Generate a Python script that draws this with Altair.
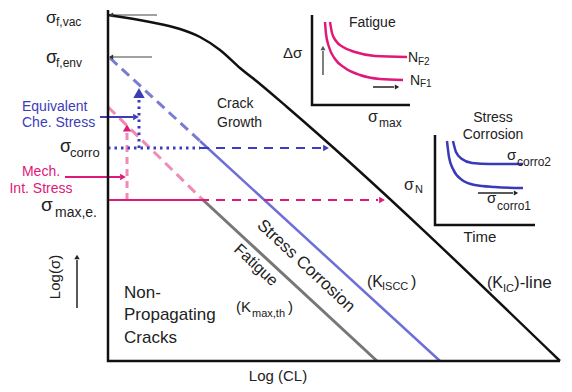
import altair as alt
import pandas as pd

# ---------------- diagram data (schematic units: x = Log(CL), y = Log(sigma)) -------------
# main frame and K_IC line
AXES_X = [108, 108, 560]
AXES_Y = [10, 361, 361]
KIC_X = [108, 150, 180, 200, 220, 240, 260, 287, 560]
KIC_Y = [15, 22, 29, 37, 50, 68, 84, 107, 361]

# strength levels (thin arrows)
SF_VAC_X, SF_VAC_Y = [157, 113], [15, 15]
SF_ENV_X, SF_ENV_Y = [152, 113], [57, 57]

# K_ISCC line: dashed part then solid part
KISCC_DASH_X, KISCC_DASH_Y = [110, 200], [58, 141]
KISCC_X, KISCC_Y = [200, 440], [141, 361]

# Fatigue threshold line: dashed part then solid part
KTH_DASH_X, KTH_DASH_Y = [108, 202], [107, 199]
KTH_X, KTH_Y = [202, 377], [199, 361]

# sigma_corro level
CORRO_DOT_X, CORRO_DOT_Y = [108, 200], [148, 148]
CORRO_DASH_X, CORRO_DASH_Y = [200, 322], [148, 148]
CHE_UP_X, CHE_UP_Y = [139, 139], [148, 100]
CHE_ARROW_X, CHE_ARROW_Y = [100, 133], [117, 117]

# sigma_max,e level
SMAX_X, SMAX_Y = [108, 200], [200, 200]
SMAX_DASH_X, SMAX_DASH_Y = [200, 378], [200, 200]
MECH_UP_X, MECH_UP_Y = [127, 127], [200, 133]
MECH_ARROW_X, MECH_ARROW_Y = [65, 120], [177, 177]

# Log(sigma) arrow
LOGS_X, LOGS_Y = [77, 77], [308, 260]

# inset 1: fatigue
IN1_AX_X, IN1_AX_Y = [312, 312, 410], [15, 105, 105]
NF2_X = [330, 332, 336, 343, 355, 375, 407]
NF2_Y = [22, 33, 41, 47, 52, 56, 57]
NF1_X = [325, 326, 329, 335, 345, 360, 380, 403]
NF1_Y = [22, 34, 47, 59, 68, 75, 79, 80]
IN1_UP_X, IN1_UP_Y = [323, 323], [75, 51]
IN1_RT_X, IN1_RT_Y = [373, 394], [87, 87]

# inset 2: stress corrosion
IN2_AX_X, IN2_AX_Y = [435, 435, 535], [135, 225, 225]
C2_X = [453, 456, 462, 472, 490, 523]
C2_Y = [141, 152, 159, 163, 164, 164]
C1_X = [447, 449, 453, 462, 475, 495, 523]
C1_Y = [141, 157, 169, 180, 185, 187, 188]
IN2_RT_X, IN2_RT_Y = [478, 513], [193, 193]

# arrow heads: (x, y, shape, colour, size)
HEADS = [
    (111, 15, "triangle-left", "#333333", 25),
    (111, 57, "triangle-left", "#333333", 25),
    (136, 117, "triangle-right", "#3c3cb8", 45),
    (139, 93, "triangle-up", "#3c3cb8", 130),
    (127, 128, "triangle-up", "#e0187a", 70),
    (123, 177, "triangle-right", "#e0187a", 45),
    (326, 148, "triangle-right", "#3c3cc0", 45),
    (382, 200, "triangle-right", "#e0187a", 45),
    (77, 257, "triangle-up", "#222222", 30),
    (323, 48, "triangle-up", "#555555", 25),
    (397, 87, "triangle-right", "#222222", 25),
    (516, 193, "triangle-right", "#222222", 25),
]

DARK, BLUE, PINK = "#222222", "#3c3cb8", "#e0187a"

# texts: (text, x, y, size, colour)
TEXT_LEFT = [
    ("σ", 46, 18, 17, DARK), ("f,vac", 56, 22, 12, DARK),
    ("σ", 46, 58, 18, DARK), ("f,env", 56, 63, 12, DARK),
    ("σ", 60, 147, 18, DARK), ("corro", 70, 153, 13, DARK),
    ("σ", 41, 205, 19, DARK), ("max,e.", 55, 213, 14, DARK),
    ("Crack", 217, 104, 14, DARK), ("Growth", 217, 123, 14, DARK),
    ("Non-", 124, 293, 17, DARK), ("Propagating", 124, 315, 17, DARK),
    ("Cracks", 124, 338, 17, DARK),
    ("(K", 236, 307, 15, DARK), ("max,th", 252, 314, 11, DARK), (")", 288, 307, 15, DARK),
    ("(K", 367, 282, 16, DARK), ("ISCC", 382, 287, 11, DARK), (")", 411, 282, 16, DARK),
    ("(K", 487, 283, 16, DARK), ("IC", 503, 289, 11, DARK), (")-line", 514, 283, 17, DARK),
    ("Fatigue", 349, 23, 14, DARK),
    ("Δσ", 283, 53, 15, DARK),
    ("σ", 368, 117, 16, DARK), ("max", 379, 123, 12, DARK),
    ("N", 408, 58, 14, DARK), ("F2", 418, 62, 10, DARK),
    ("N", 410, 81, 14, DARK), ("F1", 420, 84, 10, DARK),
    ("σ", 404, 185, 16, DARK), ("N", 415, 190, 11, DARK),
    ("σ", 507, 155, 15, DARK), ("corro2", 517, 162, 12, DARK),
    ("σ", 487, 198, 15, DARK), ("corro1", 497, 206, 12, DARK),
    ("Equivalent", 22, 107, 14, BLUE), ("Che. Stress", 22, 123, 14, BLUE),
]
TEXT_CENTER = [
    ("Mech.", 41, 172, 14, PINK), ("Int. Stress", 41, 189, 14, PINK),
    ("Log (CL)", 278, 376, 15, DARK),
    ("Stress", 493, 118, 14, DARK), ("Corrosion", 493, 135, 14, DARK),
    ("Time", 480, 237, 15, DARK),
]
TEXT_VERTICAL = [("Log(σ)", 55, 277, 15, DARK)]
TEXT_SLANT = [("Fatigue", 256, 265, 16, DARK), ("Stress Corrosion", 306, 266, 17, DARK)]

FONT = "Liberation Sans"

# ---------------------------------------------------------------------------------------
X = alt.X("x:Q", scale=alt.Scale(domain=[8, 564], nice=False, zero=False), axis=None)
Y = alt.Y("y:Q", scale=alt.Scale(domain=[8, 384], nice=False, zero=False, reverse=True), axis=None)


def paths(*pairs):
    frames = []
    for i, (xs, ys) in enumerate(pairs):
        frames.append(pd.DataFrame({"x": xs, "y": ys, "seg": i, "o": list(range(len(xs)))}))
    return pd.concat(frames, ignore_index=True)


def lines(df, color, width, dash=None, interp="linear"):
    kw = dict(color=color, strokeWidth=width, interpolate=interp, strokeCap="butt")
    if dash:
        kw["strokeDash"] = dash
    return alt.Chart(df).mark_line(**kw).encode(
        x=X, y=Y, detail="seg:N", order="o:Q")


def texts(rows, align, angle=0):
    df = pd.DataFrame(rows, columns=["t", "x", "y", "s", "c"])
    return alt.Chart(df).mark_text(align=align, baseline="middle", font=FONT, angle=angle).encode(
        x=X, y=Y, text="t:N",
        size=alt.Size("s:Q", scale=None),
        color=alt.Color("c:N", scale=None))


layers = [
    lines(paths((SF_VAC_X, SF_VAC_Y), (SF_ENV_X, SF_ENV_Y)), "#444444", 1),
    lines(paths((KISCC_DASH_X, KISCC_DASH_Y)), "#7b7bd3", 3, [10, 6]),
    lines(paths((KISCC_X, KISCC_Y)), "#6e6ed8", 2.5),
    lines(paths((KTH_DASH_X, KTH_DASH_Y)), "#f08ab9", 3, [10, 6]),
    lines(paths((KTH_X, KTH_Y)), "#777777", 3),
    lines(paths((MECH_UP_X, MECH_UP_Y)), "#f08ab9", 3, [7, 5]),
    lines(paths((CORRO_DOT_X, CORRO_DOT_Y), (CHE_UP_X, CHE_UP_Y)), "#3c3cb8", 3, [2.5, 4]),
    lines(paths((CORRO_DASH_X, CORRO_DASH_Y)), "#3c3cc0", 2, [9, 7]),
    lines(paths((CHE_ARROW_X, CHE_ARROW_Y)), "#3c3cb8", 2),
    lines(paths((SMAX_X, SMAX_Y), (MECH_ARROW_X, MECH_ARROW_Y)), PINK, 2),
    lines(paths((SMAX_DASH_X, SMAX_DASH_Y)), PINK, 2, [9, 7]),
    lines(paths((AXES_X, AXES_Y), (IN1_AX_X, IN1_AX_Y), (IN2_AX_X, IN2_AX_Y)), "#111111", 2.5),
    lines(paths((KIC_X, KIC_Y)), "#111111", 2.5, interp="monotone"),
    lines(paths((NF2_X, NF2_Y), (NF1_X, NF1_Y)), PINK, 2.5, interp="monotone"),
    lines(paths((C2_X, C2_Y), (C1_X, C1_Y)), "#3a3ab8", 2.5, interp="monotone"),
    lines(paths((LOGS_X, LOGS_Y), (IN1_RT_X, IN1_RT_Y), (IN2_RT_X, IN2_RT_Y)), "#222222", 1.5),
    lines(paths((IN1_UP_X, IN1_UP_Y)), "#555555", 1.5),
]

heads_df = pd.DataFrame(HEADS, columns=["x", "y", "shape", "c", "s"])
layers.append(
    alt.Chart(heads_df).mark_point(filled=True, opacity=1, strokeWidth=0).encode(
        x=X, y=Y,
        shape=alt.Shape("shape:N", scale=None),
        color=alt.Color("c:N", scale=None),
        size=alt.Size("s:Q", scale=None))
)

layers += [
    texts(TEXT_LEFT, "left"),
    texts(TEXT_CENTER, "center"),
    texts(TEXT_VERTICAL, "center", angle=270),
    texts(TEXT_SLANT, "center", angle=43),
]

chart = alt.layer(*layers).properties(
    width=556, height=376, padding=0,
    autosize=alt.AutoSizeParams(type="none"),
    background="white",
).configure_view(stroke=None)

chart.save("out.html", embed_options={"renderer": "svg", "actions": False})
